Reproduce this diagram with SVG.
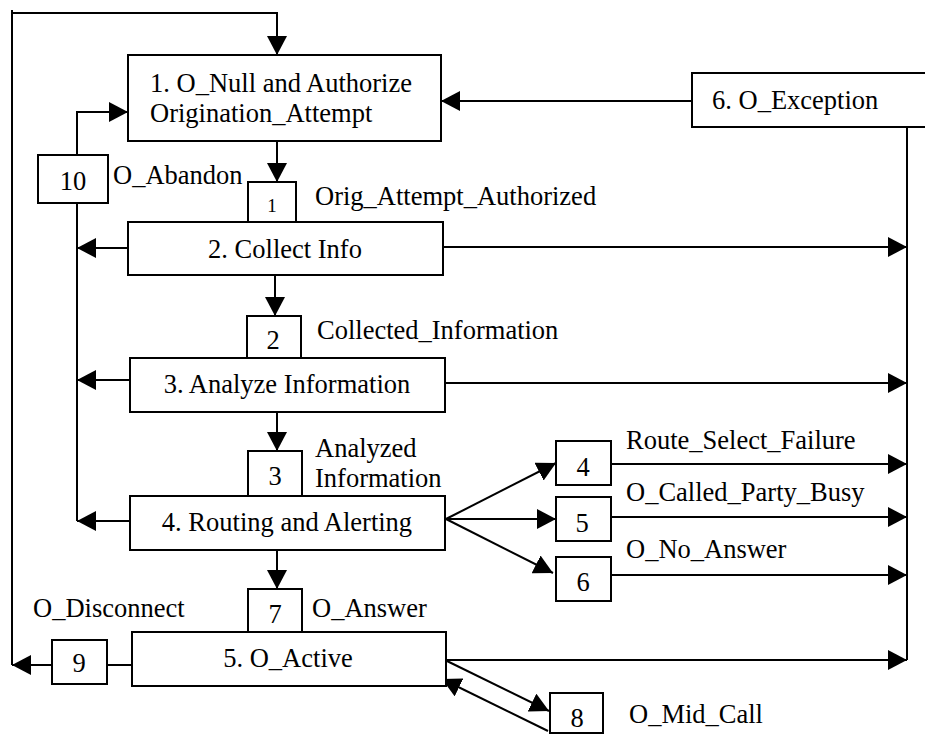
<svg xmlns="http://www.w3.org/2000/svg" width="925" height="735" viewBox="0 0 925 735" font-family="'Liberation Serif', 'DejaVu Serif', 'Times New Roman', serif">
  <style>
    .box { fill: #fff; stroke: #000; stroke-width: 2; }
    .ln { fill: none; stroke: #000; stroke-width: 2; }
    .arr { fill: none; stroke: #000; stroke-width: 2; marker-end: url(#ah); }
    text { font-family: 'Liberation Serif', 'DejaVu Serif', 'Times New Roman', serif; font-size: 26.5px; fill: #000; }
    .c { text-anchor: middle; }
    .sm { font-size: 19px; }
  </style>
  <defs>
    <marker id="ah" markerUnits="userSpaceOnUse" markerWidth="20" markerHeight="20" refX="19" refY="10" orient="auto" viewBox="0 0 20 20">
      <path d="M0,0 L19,10 L0,20 z" fill="#000"/>
    </marker>
  </defs>

  <rect width="925" height="735" fill="#fff"/>

  <!-- connectors -->
  <g id="connectors">
    <!-- disconnect loop back to the null state -->
    <polyline class="arr" points="12,665 12,13 277,13 277,55"/>
    <line class="ln" x1="12" y1="10" x2="12" y2="16"/>
    <!-- abandon loop -->
    <polyline class="arr" points="77,155 77,112 128,112"/>
    <line class="ln" x1="77" y1="203" x2="77" y2="521"/>
    <line class="arr" x1="128" y1="248" x2="77" y2="248"/>
    <line class="arr" x1="130" y1="380" x2="77" y2="380"/>
    <line class="arr" x1="130" y1="521" x2="77" y2="521"/>
    <!-- exception -->
    <line class="arr" x1="692" y1="101" x2="441" y2="101"/>
    <line class="ln" x1="907" y1="127" x2="907" y2="660"/>
    <line class="arr" x1="443" y1="247" x2="907" y2="247"/>
    <line class="arr" x1="445" y1="383" x2="907" y2="383"/>
    <line class="arr" x1="611" y1="464" x2="907" y2="464"/>
    <line class="arr" x1="611" y1="517" x2="907" y2="517"/>
    <line class="arr" x1="612" y1="575" x2="907" y2="575"/>
    <line class="arr" x1="446" y1="660" x2="907" y2="660"/>
    <!-- main flow -->
    <line class="arr" x1="277" y1="141" x2="277" y2="182"/>
    <line class="arr" x1="275" y1="275" x2="275" y2="316"/>
    <line class="arr" x1="277" y1="412" x2="277" y2="451"/>
    <line class="arr" x1="277" y1="550" x2="277" y2="589"/>
    <!-- routing fan-out -->
    <line class="arr" x1="446" y1="519" x2="556" y2="463"/>
    <line class="arr" x1="446" y1="519" x2="556" y2="519"/>
    <line class="arr" x1="446" y1="519" x2="553" y2="573"/>
    <!-- active / disconnect / mid-call -->
    <line class="ln" x1="107" y1="665" x2="132" y2="665"/>
    <line class="arr" x1="52" y1="665" x2="12" y2="665"/>
    <line class="arr" x1="447" y1="661" x2="549" y2="711"/>
    <line class="arr" x1="548" y1="731" x2="442" y2="679"/>
  </g>

  <g id="n1">
    <rect class="box" x="128" y="55" width="313" height="86"/>
    <text x="150" y="92">1. O_Null and Authorize</text>
    <text x="150" y="122">Origination_Attempt</text>
  </g>
  <g id="n6exc">
    <rect class="box" x="692" y="73" width="240" height="54"/>
    <text x="712" y="109">6. O_Exception</text>
  </g>
  <g id="d10">
    <rect class="box" x="38" y="155" width="70" height="48"/>
    <text class="c" x="73" y="190">10</text>
  </g>
  <text x="113" y="184">O_Abandon</text>
  <g id="d1">
    <rect class="box" x="248" y="182" width="48" height="40"/>
    <text class="c sm" x="272" y="212">1</text>
  </g>
  <text x="315" y="205">Orig_Attempt_Authorized</text>
  <g id="n2">
    <rect class="box" x="128" y="222" width="315" height="53"/>
    <text class="c" x="285" y="258">2. Collect Info</text>
  </g>
  <g id="d2">
    <rect class="box" x="247" y="316" width="54" height="42"/>
    <text class="c" x="273" y="349">2</text>
  </g>
  <text x="317" y="339">Collected_Information</text>
  <g id="n3">
    <rect class="box" x="130" y="358" width="315" height="54"/>
    <text class="c" x="287" y="393">3. Analyze Information</text>
  </g>
  <g id="d3">
    <rect class="box" x="248" y="451" width="54" height="45"/>
    <text class="c" x="275" y="485">3</text>
  </g>
  <text x="315" y="457">Analyzed</text>
  <text x="315" y="487">Information</text>
  <g id="n4">
    <rect class="box" x="130" y="496" width="315" height="54"/>
    <text class="c" x="287" y="531">4. Routing and Alerting</text>
  </g>
  <g id="d4">
    <rect class="box" x="556" y="441" width="55" height="44"/>
    <text class="c" x="583" y="476">4</text>
  </g>
  <text x="626" y="449">Route_Select_Failure</text>
  <g id="d5">
    <rect class="box" x="556" y="497" width="55" height="44"/>
    <text class="c" x="582" y="532">5</text>
  </g>
  <text x="626" y="501">O_Called_Party_Busy</text>
  <g id="d6">
    <rect class="box" x="556" y="557" width="55" height="44"/>
    <text class="c" x="583" y="591">6</text>
  </g>
  <text x="626" y="558">O_No_Answer</text>
  <g id="d7">
    <rect class="box" x="248" y="589" width="54" height="43"/>
    <text class="c" x="275" y="623">7</text>
  </g>
  <text x="312" y="617">O_Answer</text>
  <text x="33" y="617">O_Disconnect</text>
  <g id="n5">
    <rect class="box" x="132" y="632" width="314" height="54"/>
    <text class="c" x="288" y="667">5. O_Active</text>
  </g>
  <g id="d9">
    <rect class="box" x="52" y="640" width="55" height="44"/>
    <text class="c" x="79" y="672">9</text>
  </g>
  <g id="d8">
    <rect class="box" x="550" y="693" width="53" height="40"/>
    <text class="c" x="577" y="727">8</text>
  </g>
  <text x="629" y="723">O_Mid_Call</text>
</svg>
